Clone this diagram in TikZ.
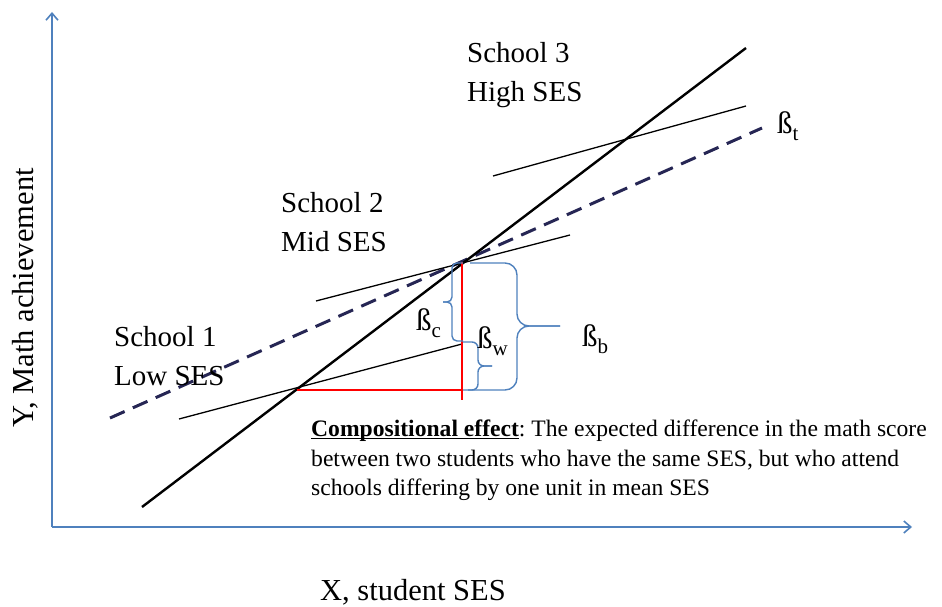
\documentclass[tikz,border=0pt]{standalone}
\usepackage{fontspec}
\setmainfont{Liberation Serif}
\usepackage{xcolor}
\usetikzlibrary{arrows.meta,positioning,calc}

\definecolor{axisblue}{RGB}{79,129,189}
\definecolor{navydash}{RGB}{38,38,84}

\newcommand{\sbeta}[1]{ß\raisebox{-7pt}{\fontsize{21}{21}\selectfont #1}}
\newcommand{\baseul}[1]{\setbox0\hbox{#1}\rlap{\rule[-2.6pt]{\wd0}{1.3pt}}\box0}
\frenchspacing

\begin{document}
\begin{tikzpicture}[
  x=1pt, y=-1pt,
  axis/.style={axisblue, line width=1.6pt, -{Straight Barb[length=7pt,width=12pt]}},
  school/.style={black, line width=1.3pt},
  total/.style={black, line width=2.4pt},
  between/.style={navydash, line width=3pt, dash pattern=on 16pt off 9pt},
  redln/.style={red, line width=1.3pt},
  brc/.style={axisblue, line width=1.4pt},
  lbl/.style={inner sep=0pt, align=left, font=\fontsize{29}{39}\selectfont},
  beta/.style={inner sep=0pt, font=\fontsize{31}{32}\selectfont}
]
  \useasboundingbox (0,0) rectangle (942,607);

  % axes
  \coordinate (o) at (52,527);
  \coordinate (ytop) at (52,12);
  \coordinate (xend) at (912,527);
  \draw[axis] (o) -- (ytop);
  \draw[axis] (o) -- (xend);

  % lines
  \coordinate (t1) at (142,507);
  \coordinate (t2) at (746,48);
  \coordinate (b1) at (110,418);
  \coordinate (b2) at (762,128);
  \coordinate (s1a) at (179,419);
  \coordinate (s1b) at (462,344);
  \coordinate (s2a) at (316,301);
  \coordinate (s2b) at (570,235);
  \coordinate (s3a) at (493,176);
  \coordinate (s3b) at (746,106);
  \draw[between] (b1) -- (b2);
  \draw[school] (s1a) -- (s1b);
  \draw[school] (s2a) -- (s2b);
  \draw[school] (s3a) -- (s3b);
  \draw[total] (t1) -- (t2);

  % red guides
  \coordinate (p) at (462,262);
  \coordinate (pd) at (462,400);
  \coordinate (q) at (297,390);
  \coordinate (qr) at (462,390);
  \draw[redln] (p) -- (pd);
  \draw[redln] (q) -- (qr);

  % braces
  \draw[brc, rounded corners=5pt] (463,263) -- (452,263) -- (452,302) -- (443,302);
  \draw[brc, rounded corners=5pt] (443,302) -- (452,302) -- (452,341) -- (463,341);
  \draw[brc, rounded corners=6pt] (463,342) -- (478,342) -- (478,366) -- (492,366);
  \draw[brc, rounded corners=6pt] (492,366) -- (478,366) -- (478,390) -- (463,390);
  \draw[brc, rounded corners=12pt] (470,263) -- (517,263) -- (517,326) -- (560,326);
  \draw[brc, rounded corners=12pt] (560,326) -- (517,326) -- (517,390) -- (468,390);

  % labels
  \node[lbl, anchor=north west] (sch3) at (467,42) {School 3\\High SES};
  \node[lbl, anchor=north west] (sch2) at (281,192) {School 2\\Mid SES};
  \node[lbl, anchor=north west] (sch1) at (114,326) {School 1\\Low SES};
  \node[beta, anchor=base west] (bc) at (416,330) {\sbeta{c}};
  \node[beta, anchor=base west] (bw) at (477,348) {\sbeta{w}};
  \node[beta, anchor=base west] (bb) at (582,346) {\sbeta{b}};
  \node[beta, anchor=base west] (bt) at (777,134) {\sbeta{t}};

  \node[inner sep=0pt, anchor=north west, align=left, font=\fontsize{23.6}{29.5}\selectfont] (comp) at (311,420)
    {\baseul{\textbf{Compositional effect}}: The expected difference in the math score\\
     between two students who have the same SES, but who attend\\
     schools differing by one unit in mean SES};

  \node[inner sep=0pt, anchor=base, font=\fontsize{30.5}{32}\selectfont] (xlab) at (413,600) {X, student SES};
  \node[inner sep=0pt, rotate=90, font=\fontsize{30.5}{32}\selectfont] (ylab) at (25,298) {Y, Math achievement};
\end{tikzpicture}
\end{document}
